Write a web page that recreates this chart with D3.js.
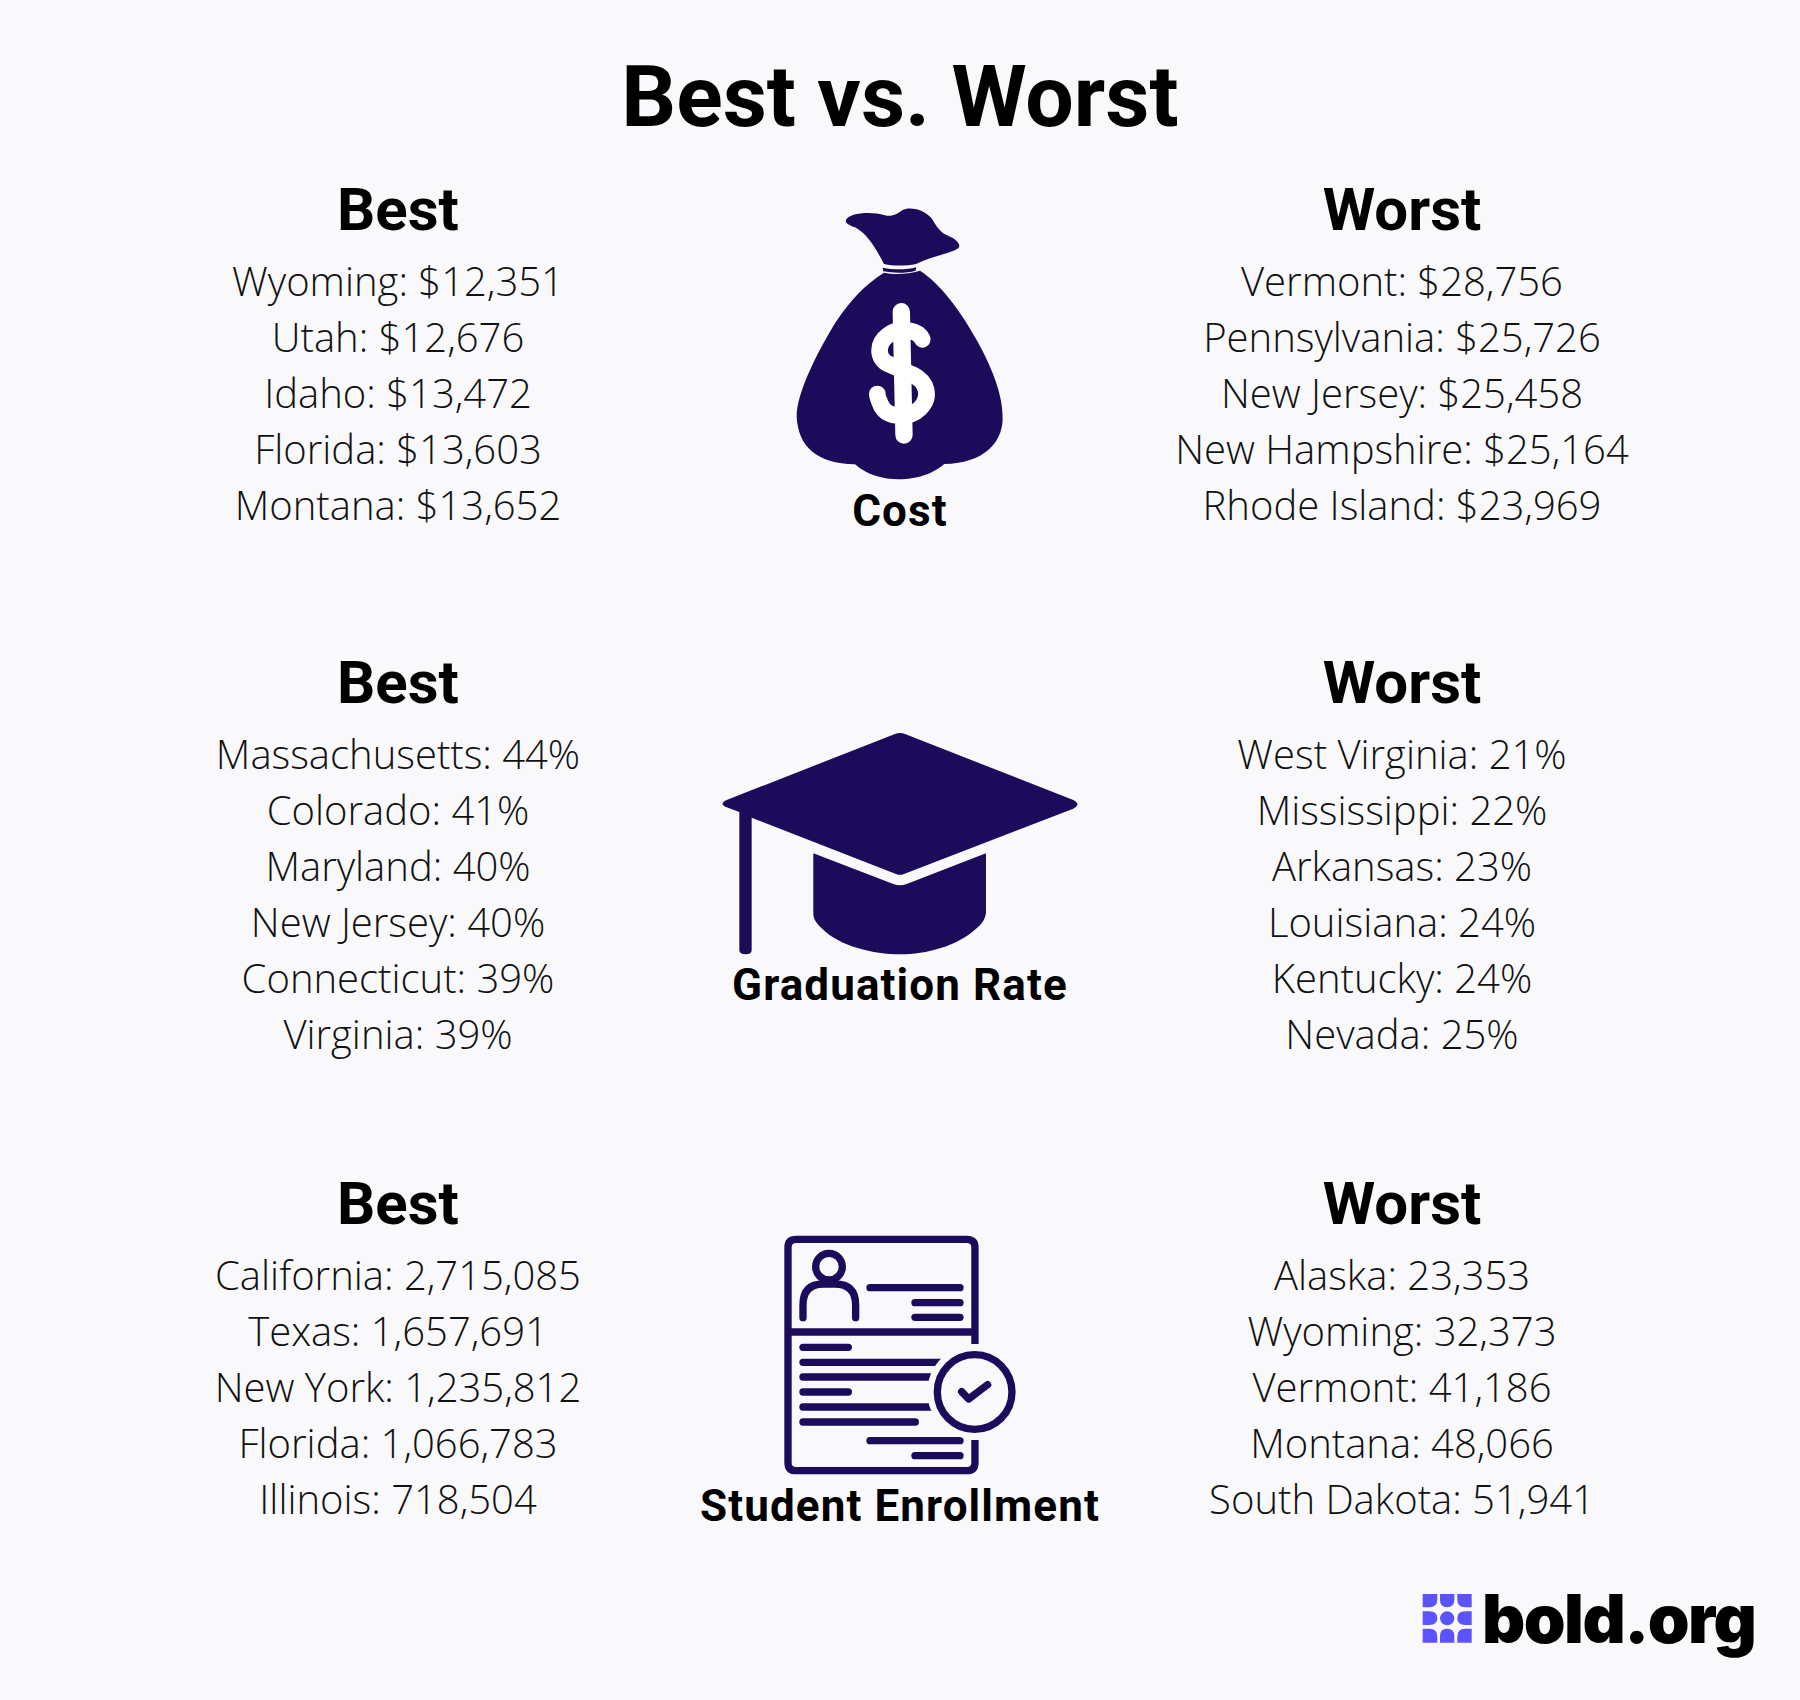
<!DOCTYPE html>
<html>
<head>
<meta charset="utf-8">
<title>Best vs. Worst</title>
<script src="https://cdn.jsdelivr.net/npm/d3@7"></script>
<style>
  html, body { margin: 0; padding: 0; background: #f9f9fc; }
  svg { display: block; }
</style>
</head>
<body>
<div id="chart"></div>
<script>
// values
const costBestStates = ["Wyoming", "Utah", "Idaho", "Florida", "Montana"];
const costBestValues = [12351, 12676, 13472, 13603, 13652];
const costWorstStates = ["Vermont", "Pennsylvania", "New Jersey", "New Hampshire", "Rhode Island"];
const costWorstValues = [28756, 25726, 25458, 25164, 23969];

const gradBestStates = ["Massachusetts", "Colorado", "Maryland", "New Jersey", "Connecticut", "Virginia"];
const gradBestValues = [44, 41, 40, 40, 39, 39];
const gradWorstStates = ["West Virginia", "Mississippi", "Arkansas", "Louisiana", "Kentucky", "Nevada"];
const gradWorstValues = [21, 22, 23, 24, 24, 25];

const enrollBestStates = ["California", "Texas", "New York", "Florida", "Illinois"];
const enrollBestValues = [2715085, 1657691, 1235812, 1066783, 718504];
const enrollWorstStates = ["Alaska", "Wyoming", "Vermont", "Montana", "South Dakota"];
const enrollWorstValues = [23353, 32373, 41186, 48066, 51941];

const sectionNames = ["Cost", "Graduation Rate", "Student Enrollment"];

const width = 1800, height = 1700;
const navy = "#1b0b5a", bg = "#f9f9fc", ink = "#000000", purple = "#5c52ff";
const headFont = "Roboto, sans-serif";
const bodyFont = "'Open Sans', sans-serif";

const svg = d3.select("#chart").append("svg")
  .attr("width", width)
  .attr("height", height)
  .attr("viewBox", [0, 0, width, height]);

svg.append("rect").attr("width", width).attr("height", height).attr("fill", bg);

// title
svg.append("text")
  .attr("x", 900).attr("y", 126)
  .attr("text-anchor", "middle")
  .attr("font-family", headFont).attr("font-weight", 700).attr("font-size", 86)
  .attr("fill", ink)
  .text("Best vs. Worst");

const money = d3.format("$,");
const count = d3.format(",");
const pct = (d) => d + "%";

const leftX = 398, rightX = 1402, rowGap = 56.1;

// one column: a header and its rows
function column(x, headBase, header, states, values, fmt) {
  svg.append("text")
    .attr("x", x).attr("y", headBase)
    .attr("text-anchor", "middle")
    .attr("font-family", headFont).attr("font-weight", 700).attr("font-size", 60)
    .attr("fill", ink)
    .text(header);

  const rowY = d3.scaleLinear().domain([0, 1]).range([headBase + 66, headBase + 66 + rowGap]);

  svg.selectAll(null)
    .data(states)
    .enter()
    .append("text")
    .attr("x", x)
    .attr("y", (d, i) => rowY(i))
    .attr("text-anchor", "middle")
    .attr("font-family", bodyFont).attr("font-weight", 300).attr("font-size", 40)
    .attr("fill", "#111")
    .text((d, i) => d + ": " + fmt(values[i]));
}

column(leftX, 229.5, "Best", costBestStates, costBestValues, money);
column(rightX, 229.5, "Worst", costWorstStates, costWorstValues, money);
column(leftX, 702.5, "Best", gradBestStates, gradBestValues, pct);
column(rightX, 702.5, "Worst", gradWorstStates, gradWorstValues, pct);
column(leftX, 1223.5, "Best", enrollBestStates, enrollBestValues, count);
column(rightX, 1223.5, "Worst", enrollWorstStates, enrollWorstValues, count);

// captions under the icons
const captionBase = [526, 999.5, 1520.5];
svg.selectAll(null)
  .data(sectionNames)
  .enter()
  .append("text")
  .attr("x", 900)
  .attr("y", (d, i) => captionBase[i])
  .attr("text-anchor", "middle")
  .attr("font-family", headFont).attr("font-weight", 700).attr("font-size", 44)
  .attr("letter-spacing", 1.1)
  .attr("fill", ink)
  .text((d) => d);

// money bag icon, traced in 3x crop coordinates
const bag = svg.append("g").attr("transform", "translate(760,180) scale(0.3333)");
bag.append("path").attr("fill", navy)
  .attr("d", "M258 120 C265 100 330 92 375 106 C395 112 415 100 428 90 C445 80 490 85 515 115 C535 150 545 160 570 170 C590 178 605 195 595 205 C570 222 510 230 468 252 C440 258 400 258 372 252 C345 200 320 160 285 142 C265 135 255 128 258 120 Z");
bag.append("path").attr("fill", navy)
  .attr("d", "M368 263 C400 270 440 270 469 262 L467 272 C440 280 400 280 370 274 Z");
bag.append("path").attr("fill", navy)
  .attr("d", "M372 278 C400 284 440 284 480 272 C540 310 600 390 650 480 C700 570 730 650 728 720 C725 790 670 850 553 852 C510 890 450 898 415 898 C370 898 320 885 285 853 C170 850 115 800 110 710 C110 640 170 520 225 430 C270 360 320 310 372 278 Z");
bag.append("path").attr("fill", "none").attr("stroke", "#fff").attr("stroke-width", 52).attr("stroke-linecap", "round")
  .attr("d", "M424 395 L432 765");
bag.append("path").attr("fill", "none").attr("stroke", "#fff").attr("stroke-width", 50).attr("stroke-linecap", "round")
  .attr("d", "M487 478 C475 450 420 440 385 465 C350 490 350 535 385 552 L460 585 C500 605 515 650 480 685 C450 715 385 715 365 680 C358 665 352 650 352 642");

// graduation cap icon
const cap = svg.append("g").attr("transform", "translate(700,710) scale(0.3333)");
cap.append("path").attr("fill", navy)
  .attr("d", "M585 72 Q600 66 615 72 L1120 270 Q1145 283 1120 296 L612 492 Q600 497 588 492 L155 323 L155 720 Q155 733 137 733 Q118 733 118 720 L118 306 L80 292 Q55 282 80 270 Z");
cap.append("path").attr("fill", navy)
  .attr("d", "M340 430 L580 522 Q600 530 620 522 L858 430 L858 610 Q855 635 830 655 C770 710 680 733 600 733 C520 733 420 710 365 655 C345 635 340 625 340 610 Z");

// enrollment form icon
const doc = svg.append("g").attr("transform", "translate(690,1210) scale(0.3333)")
  .attr("fill", "none").attr("stroke", navy).attr("stroke-width", 22);
const docLines = [
  [540, 233, 810], [675, 278, 810], [675, 322, 810],
  [339, 412, 475], [339, 457, 760], [339, 501, 760], [339, 546, 475],
  [339, 591, 760], [339, 636, 676], [540, 692, 810], [675, 737, 810]
];
doc.append("path")
  .attr("d", "M855 402 L855 112 Q855 88 830 88 L318 88 Q294 88 294 112 L294 758 Q294 782 318 782 L830 782 Q855 782 855 758 L855 690");
doc.append("path").attr("d", "M294 366 L855 366");
doc.append("circle").attr("cx", 417).attr("cy", 170).attr("r", 40);
doc.append("path").attr("stroke-linecap", "round")
  .attr("d", "M339 323 L339 285 Q339 222 400 222 L435 222 Q497 222 497 285 L497 323");
doc.selectAll(null)
  .data(docLines)
  .enter()
  .append("line")
  .attr("stroke-linecap", "round")
  .attr("x1", (d) => d[0]).attr("x2", (d) => d[2])
  .attr("y1", (d) => d[1]).attr("y2", (d) => d[1]);
doc.append("circle").attr("cx", 854).attr("cy", 546).attr("r", 142).attr("fill", bg).attr("stroke", "none");
doc.append("circle").attr("cx", 854).attr("cy", 546).attr("r", 112);
doc.append("path").attr("stroke-linecap", "round").attr("stroke-linejoin", "round")
  .attr("d", "M815 545 L836 567 L893 524");

// bold.org logo
const logo = svg.append("g").attr("transform", "translate(1400,1570) scale(0.3333)").attr("fill", purple);
const logoCells = [
  "M68 72 H112 V88 Q112 112 88 112 H68 Z",
  "M120 72 H163 V90 Q163 112 141 112 Q120 112 120 90 Z",
  "M172 72 H215 V112 H195 Q172 112 172 90 Z",
  "M68 124 H88 Q112 124 112 145 Q112 165 88 165 H68 Z",
  "M120 145 A21.5 21 0 1 1 163 145 A21.5 21 0 1 1 120 145 Z",
  "M215 124 H195 Q172 124 172 145 Q172 165 195 165 H215 Z",
  "M68 218 H112 V200 Q112 176 88 176 H68 Z",
  "M120 218 H163 V198 Q163 176 141 176 Q120 176 120 198 Z",
  "M172 218 H215 V176 H195 Q172 176 172 200 Z"
];
logo.selectAll("path").data(logoCells).enter().append("path").attr("d", (d) => d);
svg.append("text")
  .attr("x", 1482).attr("y", 1642.5)
  .attr("font-family", "Inter, sans-serif").attr("font-weight", 900).attr("font-size", 67)
  .attr("letter-spacing", -1.5)
  .attr("fill", ink)
  .text("bold.org");
</script>
</body>
</html>
